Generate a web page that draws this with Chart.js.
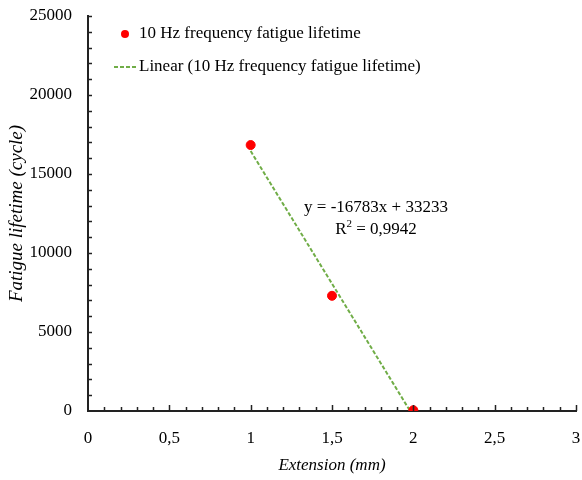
<!DOCTYPE html>
<html>
<head>
<meta charset="utf-8">
<script src="https://cdn.jsdelivr.net/npm/chart.js@4"></script>
<style>
html,body{margin:0;padding:0;background:#fff;}
#wrap{width:582px;height:480px;}
</style>
</head>
<body>
<div id="wrap"><canvas id="c" width="582" height="480"></canvas></div>
<script>
// Data
const extension = [1, 1.5, 2];
const lifetime = [16833, 7292, 50];
const trendX = [1, 2];
const trendY = [16450, -333];
const seriesName = '10 Hz frequency fatigue lifetime';
const trendName = 'Linear (10 Hz frequency fatigue lifetime)';
const equationText = 'y = -16783x + 33233';
const r2Value = '0,9942';
const xTickLabels = {0:'0',0.5:'0,5',1:'1',1.5:'1,5',2:'2',2.5:'2,5',3:'3'};
const yTicks = [0, 5000, 10000, 15000, 20000, 25000];
const yTickLabels = ['0', '5000', '10000', '15000', '20000', '25000'];

const FONT = "'Liberation Serif', serif";

const tickPlugin = {
  id: 'innerTicks',
  afterDatasetsDraw(chart) {
    const ctx = chart.ctx;
    const xs = chart.scales.x, ys = chart.scales.y;
    ctx.save();
    ctx.strokeStyle = '#222';
    ctx.lineWidth = 1.5;
    for (let v = 1000; v <= 25000; v += 1000) {
      const py = Math.round(ys.getPixelForValue(v)) + 0.5;
      ctx.beginPath();
      ctx.moveTo(xs.left, py);
      ctx.lineTo(xs.left + 4, py);
      ctx.stroke();
    }
    for (let i = 1; i <= 30; i++) {
      const v = i / 10;
      const px = Math.round(xs.getPixelForValue(v)) + 0.5;
      const major = i % 5 === 0;
      ctx.beginPath();
      ctx.moveTo(px, ys.bottom);
      ctx.lineTo(px, ys.bottom - (major ? 6 : 4));
      ctx.stroke();
    }
    ctx.restore();
  }
};

const textPlugin = {
  id: 'texts',
  afterDraw(chart) {
    const ctx = chart.ctx;
    ctx.save();
    ctx.fillStyle = '#ff0000';
    ctx.beginPath();
    ctx.arc(125, 34, 4, 0, Math.PI * 2);
    ctx.fill();
    ctx.fillStyle = '#000';
    ctx.font = "17px " + FONT;
    ctx.textBaseline = 'middle';
    ctx.textAlign = 'left';
    ctx.fillText(seriesName, 139, 34);
    ctx.strokeStyle = '#70ad47';
    ctx.lineWidth = 2;
    ctx.setLineDash([4, 2]);
    ctx.beginPath();
    ctx.moveTo(114, 67);
    ctx.lineTo(137, 67);
    ctx.stroke();
    ctx.setLineDash([]);
    ctx.fillText(trendName, 139, 67);
    ctx.textAlign = 'center';
    ctx.fillText(equationText, 376, 208);
    const r = 'R';
    const rest = ' = ' + r2Value;
    const wR = ctx.measureText(r).width;
    ctx.font = "11px " + FONT;
    const wS = ctx.measureText('2').width;
    ctx.font = "17px " + FONT;
    const wRest = ctx.measureText(rest).width;
    const total = wR + wS + wRest;
    let x0 = 376 - total / 2;
    ctx.textAlign = 'left';
    ctx.fillText(r, x0, 230);
    ctx.font = "11px " + FONT;
    ctx.fillText('2', x0 + wR, 224);
    ctx.font = "17px " + FONT;
    ctx.fillText(rest, x0 + wR + wS, 230);
    ctx.restore();
  }
};

new Chart(document.getElementById('c'), {
  type: 'scatter',
  data: {
    datasets: [
      {
        label: seriesName,
        data: extension.map((x, i) => ({x: x, y: lifetime[i]})),
        backgroundColor: '#ff0000',
        borderColor: '#ff0000',
        pointRadius: 4.5,
        pointHoverRadius: 4.5,
        order: 1
      },
      {
        label: trendName,
        type: 'line',
        data: trendX.map((x, i) => ({x: x, y: trendY[i]})),
        borderColor: '#70ad47',
        borderWidth: 2,
        borderDash: [4, 2],
        pointRadius: 0,
        fill: false,
        order: 2
      }
    ]
  },
  options: {
    responsive: false,
    animation: false,
    layout: {padding: {left: 0, right: 6, top: 16, bottom: 0}},
    plugins: {legend: {display: false}, tooltip: {enabled: false}},
    scales: {
      x: {
        type: 'linear',
        min: 0, max: 3,
        ticks: {
          stepSize: 0.5,
          color: '#000',
          font: {family: FONT, size: 17},
          padding: 17,
          callback: v => xTickLabels[v] !== undefined ? xTickLabels[v] : ''
        },
        grid: {display: true, drawOnChartArea: false, drawTicks: false},
        border: {display: true, color: '#222', width: 2},
        title: {display: true, text: 'Extension (mm)', color: '#000', font: {family: FONT, size: 17, style: 'italic'}, padding: {top: 2, bottom: 4}},
        afterFit: s => { s.height = 69; s.paddingLeft = 0; s.paddingRight = 0; }
      },
      y: {
        type: 'linear',
        min: 0, max: 25000,
        afterBuildTicks: s => { s.ticks = yTicks.map(v => ({value: v})); },
        ticks: {
          color: '#000',
          font: {family: FONT, size: 17},
          padding: 16,
          callback: (v, i) => yTickLabels[yTicks.indexOf(v)]
        },
        grid: {display: true, drawOnChartArea: false, drawTicks: false},
        border: {display: true, color: '#222', width: 2},
        title: {display: true, text: 'Fatigue lifetime (cycle)', color: '#000', font: {family: FONT, size: 19, style: 'italic'}, padding: {top: 6, bottom: 0}},
        afterFit: s => { s.width = 88; s.paddingTop = 0; s.paddingBottom = 0; }
      }
    }
  },
  plugins: [tickPlugin, textPlugin]
});
</script>
</body>
</html>
